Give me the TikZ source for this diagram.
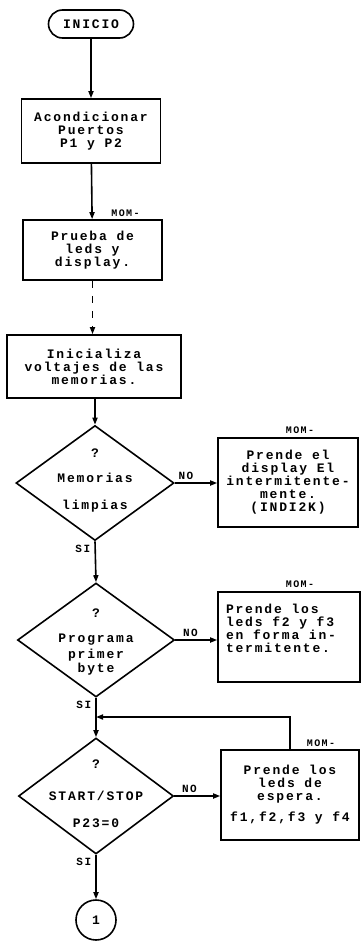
\documentclass[tikz,border=0pt]{standalone}
\usepackage{fontspec}
\newfontfamily\dotfont{Liberation Mono}[LetterSpace=14]
\usepackage{tikz}
\usetikzlibrary{shapes, shapes.geometric, shapes.misc, arrows.meta, positioning}

\begin{document}
\begin{tikzpicture}[x=1pt, y=-1pt, line width=1.6pt,
		font=\dotfont\bfseries\fontsize{13}{13}\selectfont,
		proc/.style={draw, rectangle, inner sep=0pt, align=center},
		decision/.style={draw, diamond, inner sep=0pt},
		tag/.style={font=\dotfont\bfseries\fontsize{11}{11}\selectfont, inner sep=1pt},
		mom/.style={font=\dotfont\bfseries\fontsize{10}{10}\selectfont, inner sep=1pt},
		flow/.style={-{Triangle[length=7pt, width=5pt]}}]
	\useasboundingbox (0,0) rectangle (362,943);
	\node[draw, rounded rectangle, minimum width=85pt, minimum height=28pt, inner sep=0pt] (inicio) at (91,24) {INICIO};
	\node[proc, minimum width=139pt, minimum height=64pt] (acond) at (91,131) {Acondicionar\\Puertos\\P1 y P2};
	\node[proc, minimum width=139pt, minimum height=60pt] (prueba) at (92.5,250) {Prueba de\\leds y\\display.};
	\node[proc, minimum width=174pt, minimum height=63pt] (inic) at (94,366.5) {Inicializa\\voltajes de las\\memorias.};
	\node[decision, minimum width=158pt, minimum height=115pt] (mem) at (95,483) {};
	\node[align=center] at ([shift={(0,-3)}]mem.center) {?\\[12pt]Memorias\\[14pt]limpias};
	\node[proc, minimum width=140pt, minimum height=89pt] (disp) at (288,482.5) {Prende el\\display El\\intermitente-\\mente.\\(INDI2K)};
	\node[decision, minimum width=157pt, minimum height=114pt] (prog) at (96,640) {};
	\node[align=center] at ([shift={(0,2)}]prog.center) {?\\[12pt]Programa\\[3pt]primer\\[1pt]byte};
	\node[proc, minimum width=142pt, minimum height=90pt] (leds) at (289,637) {};
	\node[align=left, anchor=north west, inner sep=0pt] at ([shift={(8,12)}]leds.north west) {Prende los\\leds f2 y f3\\en forma in-\\termitente.};
	\node[decision, minimum width=155pt, minimum height=116pt] (start) at (96,796) {};
	\node[align=center] at ([shift={(0,-2)}]start.center) {?\\[19pt]START/STOP\\[14pt]P23=0};
	\node[proc, minimum width=138pt, minimum height=90pt] (espera) at (290,795) {Prende los\\leds de\\espera.\\[8pt]f1,f2,f3 y f4};
	\node[draw, circle, minimum size=40pt, inner sep=0pt] (uno) at (96,920) {1};
	\coordinate (ret) at (96,717);
	\draw[flow] (inicio) -- (acond);
	\draw[flow] (acond) -- (prueba);
	\draw[flow, dash pattern=on 7pt off 8pt] (prueba.south) -- (prueba.south |- inic.north);
	\draw[flow] (inic.south -| mem.north) -- (mem.north);
	\draw[flow] (mem.east) -- (disp.west |- mem.east);
	\draw[flow] (mem.south) -- (prog.north);
	\draw[flow] (prog.east) -- (leds.west |- prog.east);
	\draw (prog.south) -- (ret);
	\draw[flow] (ret) -- (start.north);
	\draw[flow] (espera.north) |- (ret);
	\draw[flow] (start.east) -- (espera.west |- start.east);
	\draw[flow] (start.south) -- (uno.north);
	\node[tag, above right=2pt and 2pt] at (mem.east) {NO};
	\node[tag, above right=2pt and 6pt] at (prog.east) {NO};
	\node[tag, above right=2pt and 6pt] at (start.east) {NO};
	\node[tag, below left=2pt and 3pt] at (mem.south) {SI};
	\node[tag, below left=2pt and 3pt] at (prog.south) {SI};
	\node[tag, below left=2pt and 3pt] at (start.south) {SI};
	\node[mom, above=1pt] at ([xshift=33pt]prueba.north) {MOM-};
	\node[mom, above=2pt] at ([xshift=12pt]disp.north) {MOM-};
	\node[mom, above=2pt] at ([xshift=11pt]leds.north) {MOM-};
	\node[mom, above=1pt] at ([xshift=31pt]espera.north) {MOM-};
\end{tikzpicture}
\end{document}
